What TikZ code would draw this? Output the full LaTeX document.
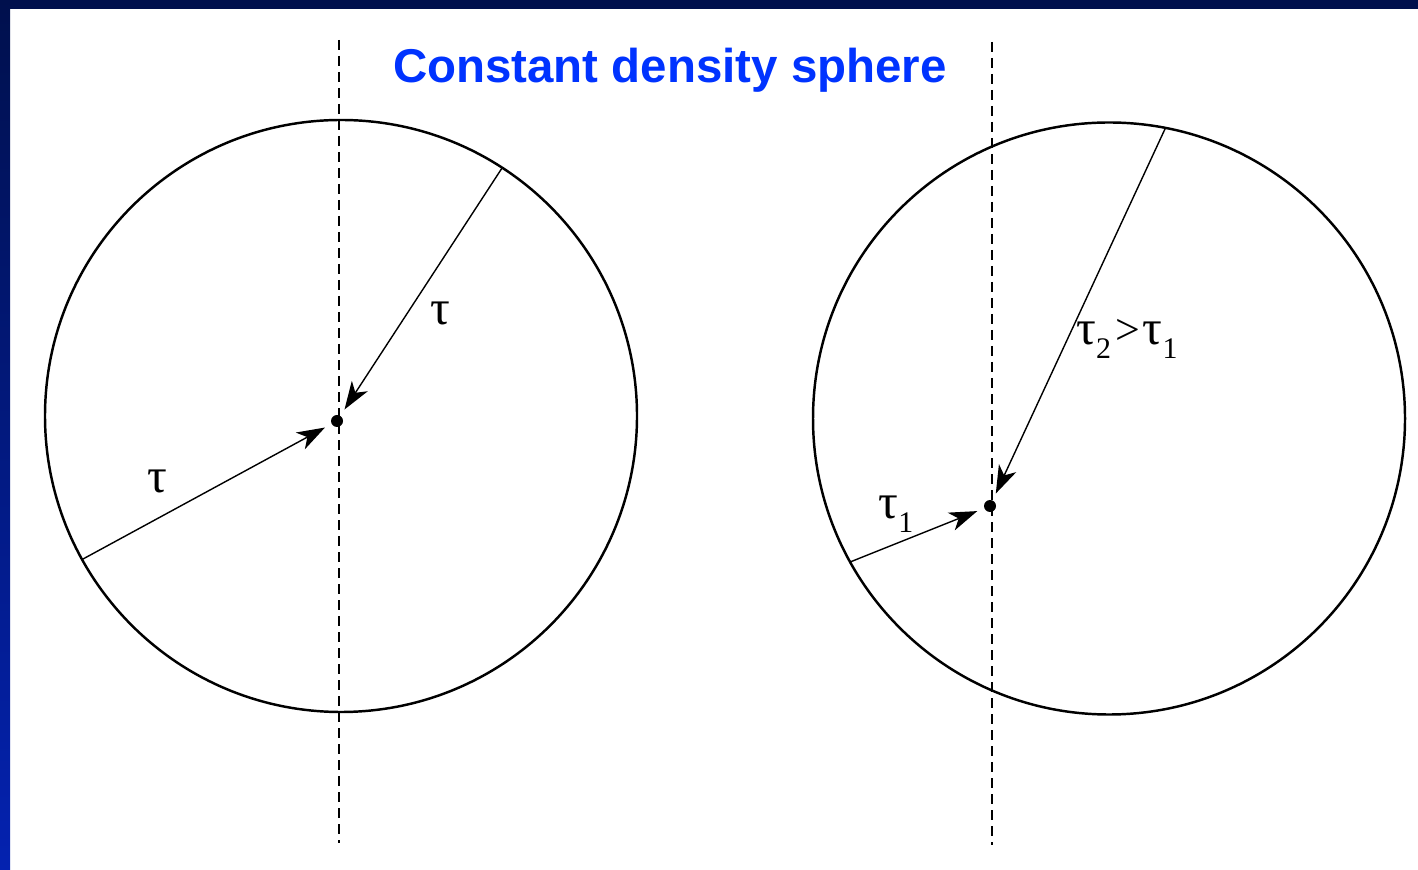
\documentclass[tikz,border=0pt]{standalone}
\usepackage{fontspec}
\setmainfont{Liberation Serif}
\newfontfamily\titlefont{Liberation Sans}
\usetikzlibrary{arrows.meta,positioning}
\definecolor{framenavy}{HTML}{00104D}
\definecolor{framelow}{HTML}{0422B0}
\definecolor{titleblue}{HTML}{0033FF}
\newcommand{\tsub}[1]{\raisebox{-0.6ex}{\fontsize{8.5}{10}\selectfont #1}}
\tikzset{
    sphere/.style={circle, draw, line width=0.7pt, minimum size=5.92cm, inner sep=0, outer sep=0},
    centre/.style={circle, fill=black, minimum size=0.12cm, inner sep=0},
    axis/.style={line width=0.55pt, dash pattern=on 0.1cm off 0.06cm},
    ray/.style={-{Stealth[length=0.28cm, width=0.19cm, inset=0.08cm]}, line width=0.4pt, shorten >=0.07cm},
    lbl/.style={font=\fontsize{14}{16}\selectfont, inner sep=0},
}

\begin{document}
\begin{tikzpicture}
    % frame
    \fill[white] (0,0) rectangle (14.18,8.69);
    \fill[framenavy] (0,8.60) rectangle (14.18,8.69);
    \shade[top color=framenavy, bottom color=framelow] (0,0) rectangle (0.10,8.69);
    \useasboundingbox (0,0) rectangle (14.18,8.69);

    \node[font=\titlefont\bfseries\fontsize{13.5}{16}\selectfont, text=titleblue] (title) at (6.70,7.99) {Constant density sphere};

    % left sphere
    \node[sphere] (lsphere) at (3.41,4.53) {};
    \coordinate (ltop) at (3.39,8.29);
    \coordinate (lbottom) at (3.39,0.26);
    \draw[axis] (ltop) -- (lbottom);
    \node[centre] (lcentre) at (3.37,4.48) {};
    \draw[ray] (lsphere.57) -- (lcentre);
    \draw[ray] (lsphere.209) -- (lcentre);
    \node[lbl] (ltauup) at (4.40,5.56) {τ};
    \node[lbl] (ltaulow) at (1.57,3.88) {τ};

    % right sphere
    \node[sphere] (rsphere) at (11.09,4.505) {};
    \coordinate (rtop) at (9.92,8.27);
    \coordinate (rbottom) at (9.92,0.24);
    \draw[axis] (rtop) -- (rbottom);
    \node[centre] (rcentre) at (9.90,3.63) {};
    \draw[ray] (rsphere.79.4) -- (rcentre);
    \draw[ray] (rsphere.209) -- (rcentre);
    \node[lbl] (rtauup) at (11.27,5.30) {τ\tsub{2}\hspace{0.04cm}{\fontsize{12.5}{15}\selectfont >}\hspace{0.03cm}τ\tsub{1}};
    \node[lbl] (rtaulow) at (8.96,3.55) {τ\tsub{1}};
\end{tikzpicture}
\end{document}
